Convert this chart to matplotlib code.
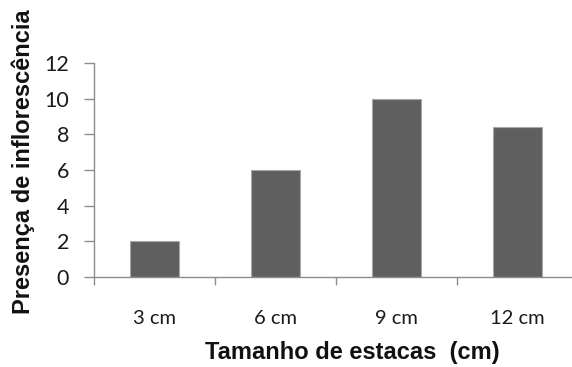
import matplotlib
matplotlib.use("Agg")
import matplotlib.pyplot as plt

categories = ["3 cm", "6 cm", "9 cm", "12 cm"]
values = [2.0, 6.0, 10.0, 8.4]
yticks = [0, 2, 4, 6, 8, 10, 12]

W, H = 572, 367
fig = plt.figure(figsize=(W / 100, H / 100), dpi=100)
ax = fig.add_axes([94 / W, 1 - 277 / H, 484 / W, 214 / H])

x = list(range(len(categories)))
ax.bar(x, values, width=0.4, color="#5f5f5f", edgecolor="#a8a8a8", linewidth=0.8, zorder=2)
ax.set_xlim(-0.5, len(categories) - 0.5)
ax.set_ylim(0, 12)
ax.set_yticks(yticks)
ax.set_yticklabels([str(v) for v in yticks], family="Lato", fontsize=15.5, color="#1a1a1a")

ax.set_xticks([i - 0.5 for i in range(len(categories))] + [len(categories) - 0.5])
ax.set_xticklabels([])
ax.set_xticks(x, minor=True)
ax.set_xticklabels(categories, minor=True, family="Lato", fontsize=14.5, color="#1a1a1a")
ax.tick_params(axis="x", which="minor", length=0, pad=24)
ax.tick_params(axis="x", which="major", length=6, width=1, color="#8c8c8c", direction="out")
ax.tick_params(axis="y", length=7, width=1, color="#8c8c8c", direction="out", pad=11)

for s in ["top", "right"]:
    ax.spines[s].set_visible(False)
for s in ["left", "bottom"]:
    ax.spines[s].set_color("#8c8c8c")
    ax.spines[s].set_linewidth(1)

fig.text(352 / W, 1 - 353 / H, "Tamanho de estacas  (cm)", ha="center", va="center",
         family="Liberation Sans", fontweight="bold", fontsize=17, color="#111111")
fig.text(23 / W, 1 - 162 / H, "Presença de inflorescência", ha="center", va="center",
         rotation=90, family="Liberation Sans", fontweight="bold", fontsize=17, color="#111111")

fig.savefig("out.png", dpi=100)
